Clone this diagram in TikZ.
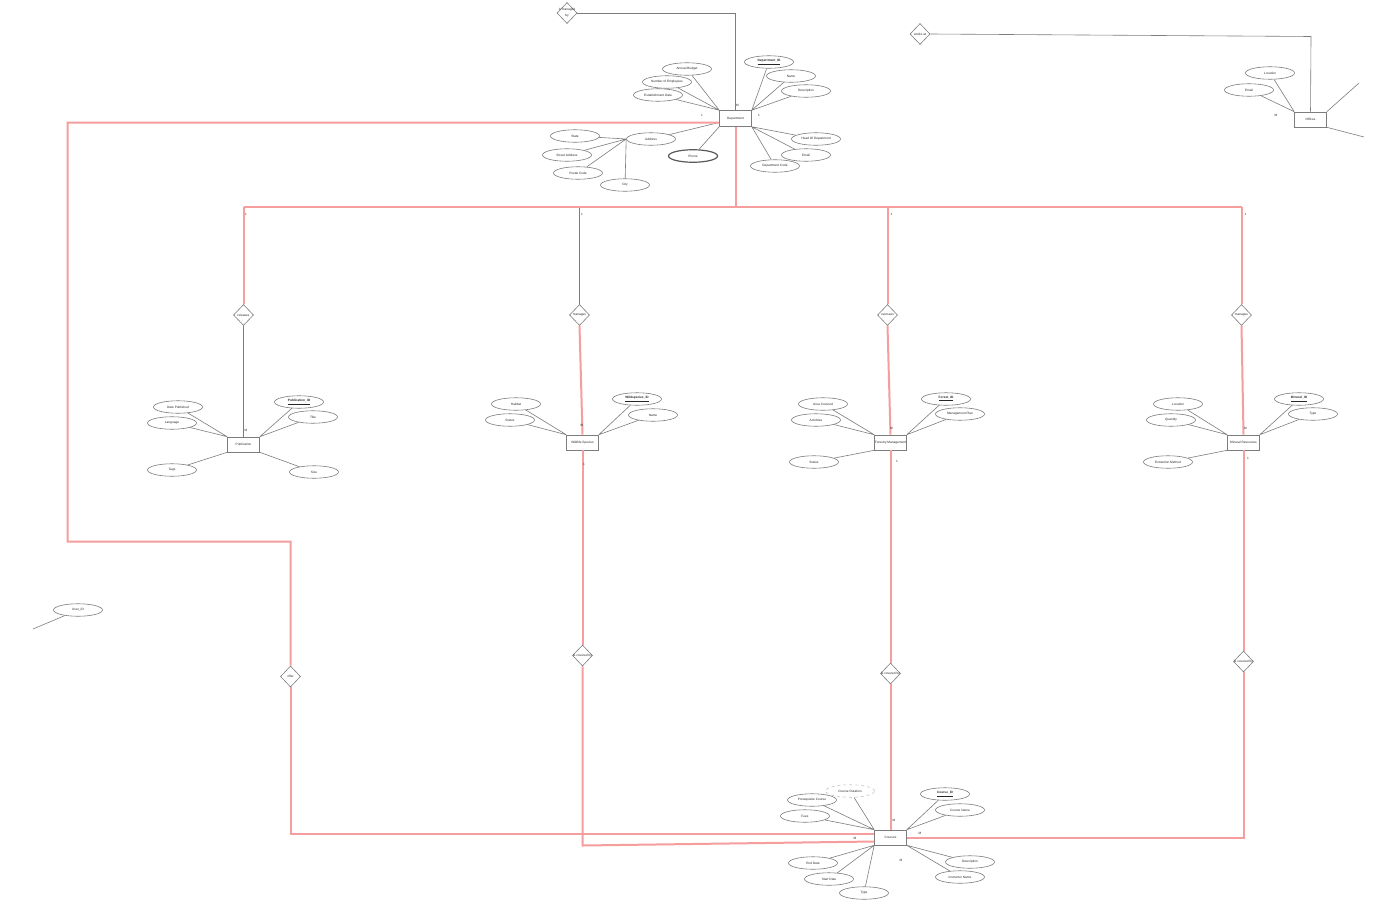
\documentclass[tikz,border=0pt]{standalone}
\usepackage{fontspec}
\setmainfont{Liberation Sans}
\usetikzlibrary{shapes.geometric}
\definecolor{linkgray}{RGB}{125,125,125}
\definecolor{relred}{RGB}{246,158,158}

\begin{document}
\begin{tikzpicture}[x=1bp,y=-1bp,
    every node/.style={font=\fontsize{3.2}{3.8}\selectfont, text=black!85},
    attr/.style={ellipse, draw=linkgray, line width=0.6bp, minimum width=49bp, minimum height=12.5bp, inner sep=0pt},
    ent/.style={rectangle, draw=linkgray, line width=0.6bp, minimum width=32bp, minimum height=16bp, inner sep=0pt},
    rel/.style={diamond, draw=linkgray, line width=0.6bp, minimum width=20bp, minimum height=21bp, inner sep=0pt},
    card/.style={inner sep=0pt},
    link/.style={draw=linkgray, line width=0.6bp},
    redlink/.style={draw=relred, line width=2bp}]
    \useasboundingbox[fill=white] (0,0) rectangle (1391,903);

    % entities
    \node[ent] (dept) at (735.5,118.5) {Department};
    \node[ent, minimum height=15bp] (off) at (1310.5,119.5) {Offices};
    \node[ent, minimum height=15bp] (pub) at (243.5,444.5) {Publication};
    \node[ent, minimum height=15bp] (wild) at (582.5,442.5) {Wildlife Species};
    \node[ent, minimum height=15bp] (forest) at (890.5,442.5) {Forestry Management};
    \node[ent, minimum height=15bp] (mineral) at (1243.5,442.5) {Mineral Resources};
    \node[ent, minimum height=15bp] (crs) at (890.5,837.5) {Courses};

    % relationships
    \node[rel] (imb) at (567,13) {\makebox[0pt]{\shortstack{is managed\\by}}};
    \node[rel] (wa) at (920,34) {\makebox[0pt]{works at}};
    \node[rel] (releases) at (243.5,315) {\makebox[0pt]{releases}};
    \node[rel] (mng) at (579.5,315) {\makebox[0pt]{manages}};
    \node[rel] (ovs) at (887.5,315) {\makebox[0pt]{oversees}};
    \node[rel] (mgr) at (1241.5,315) {\makebox[0pt]{manages}};
    \node[rel] (offer) at (290.5,676.5) {\makebox[0pt]{offer}};
    \node[rel] (icb1) at (582.5,655.5) {\makebox[0pt]{is covered by}};
    \node[rel] (icb2) at (890.5,673.5) {\makebox[0pt]{is covered by}};
    \node[rel] (icb3) at (1243.5,661.5) {\makebox[0pt]{is covered by}};

    % department attributes
    \node[attr] (budget) at (687,69) {Annual Budget};
    \node[attr] (staff) at (667,82) {Number of Employees};
    \node[attr] (estdate) at (658,95) {Establishment Date};
    \node[attr] (deptid) at (769,62) {\underline{\textbf{Department\_ID}}};
    \node[attr] (dname) at (791,76) {Name};
    \node[attr] (ddesc) at (806,91) {Description};
    \node[attr] (head) at (816,139) {Head Of Department};
    \node[attr] (demail) at (806,155) {Email};
    \node[attr] (dcode) at (775,166) {Department Code};
    \node[attr] (addr) at (651,139) {Address};
    \node[attr, draw=black!65, line width=1.2bp] (phone) at (693,156) {Phone};
    \node[attr] (state) at (575,136) {State};
    \node[attr] (street) at (567,155) {Street Address};
    \node[attr] (postal) at (578,173) {Postal Code};
    \node[attr] (city) at (625,185) {City};

    \draw[link] (budget) -- (dept.north west) (staff) -- (dept.north west) (estdate) -- (dept.north west);
    \draw[link] (deptid) -- (dept.north east) (dname) -- (dept.north east) (ddesc) -- (dept.north east);
    \draw[link] (head) -- (dept.south east) (demail) -- (dept.south east) (dcode) -- (dept.south east);
    \draw[link] (addr) -- ([yshift=-4bp]dept.west) (phone) -- (dept.south west);
    \draw[link] (state) -- (addr.west) (street) -- (addr.west) (postal) -- (addr.west) (city) -- (addr.west);

    % offices attributes
    \node[attr] (oloc) at (1270,73) {Location};
    \node[attr] (oemail) at (1249,90) {Email};
    \coordinate (offa) at (1359,83);
    \coordinate (offb) at (1364,137);
    \draw[link] (oloc) -- (off.north west) (oemail) -- (off.north west);
    \draw[link] (off.north east) -- (offa) (off.south east) -- (offb);

    % publication attributes
    \node[attr] (pdate) at (178,407) {Date Published};
    \node[attr] (plang) at (172,423) {Language};
    \node[attr] (pubid) at (299,402) {\underline{\textbf{Publication\_ID}}};
    \node[attr] (ptitle) at (313,417) {Title};
    \node[attr] (ptags) at (172,470) {Tags};
    \node[attr] (psize) at (314,472) {Size};
    \draw[link] (pdate) -- (pub.north west) (plang) -- (pub.north west);
    \draw[link] (pubid) -- (pub.north east) (ptitle) -- (pub.north east);
    \draw[link] (ptags) -- (pub.south west) (psize) -- (pub.south east);

    % wildlife attributes
    \node[attr] (whab) at (516,404) {Habitat};
    \node[attr] (wstat) at (510,420) {Status};
    \node[attr] (wildid) at (637,399) {\underline{\textbf{Wildspecies\_ID}}};
    \node[attr] (wname) at (653,415) {Name};
    \draw[link] (whab) -- (wild.north west) (wstat) -- (wild.north west);
    \draw[link] (wildid) -- (wild.north east) (wname) -- (wild.north east);

    % forestry attributes
    \node[attr] (farea) at (823,404) {Area Covered};
    \node[attr] (fact) at (816,420) {Activities};
    \node[attr] (forestid) at (946,399) {\underline{\textbf{Forest\_ID}}};
    \node[attr] (fplan) at (960,414) {Management Plan};
    \node[attr] (fstat) at (814,462) {Status};
    \draw[link] (farea) -- (forest.north west) (fact) -- (forest.north west);
    \draw[link] (forestid) -- (forest.north east) (fplan) -- (forest.north east);
    \draw[link] (fstat) -- (forest.south west);

    % mineral attributes
    \node[attr] (mloc) at (1178,404) {Location};
    \node[attr] (mqty) at (1171,420) {Quantity};
    \node[attr] (minid) at (1299,399) {\underline{\textbf{Mineral\_ID}}};
    \node[attr] (mtype) at (1313,414) {Type};
    \node[attr] (mext) at (1168,462) {Extraction Method};
    \draw[link] (mloc) -- (mineral.north west) (mqty) -- (mineral.north west);
    \draw[link] (minid) -- (mineral.north east) (mtype) -- (mineral.north east);
    \draw[link] (mext) -- (mineral.south west);

    % course attributes
    \node[attr, draw=linkgray!45, dashed] (cdur) at (850,791) {Course Duration};
    \node[attr] (cpre) at (812,800) {Prerequisite Course};
    \node[attr] (cfees) at (805,816) {Fees};
    \node[attr] (courseid) at (945,794) {\underline{\textbf{Course\_ID}}};
    \node[attr] (cname) at (960,810) {Course Name};
    \node[attr] (cend) at (813,863) {End Date};
    \node[attr] (cstart) at (829,879) {Start Date};
    \node[attr] (ctype) at (864,893) {Type};
    \node[attr] (cdesc) at (970,862) {Description};
    \node[attr] (cinst) at (960,877) {Instructor Name};
    \draw[link] (cdur) -- (crs.north west) (cpre) -- (crs.north west) (cfees) -- (crs.north west);
    \draw[link] (courseid) -- (crs.north east) (cname) -- (crs.north east);
    \draw[link] (cend) -- (crs.south west) (cstart) -- (crs.south west) (ctype) -- (crs.south west);
    \draw[link] (cdesc) -- (crs.south east) (cinst) -- (crs.south east);

    % user
    \node[attr] (uid) at (78,610) {User\_ID};
    \coordinate (uidend) at (33,629);
    \draw[link] (uid) -- (uidend);

    % black connectors
    \draw[link] (imb.east) -| (dept.north);
    \coordinate (wacorner) at (1311,36.5);
    \draw[link] (wa.east) -- (wacorner) -- (off.north);
    \coordinate (bus) at (735.5,206.5);
    \draw[link] (releases.south) -- (pub.north);
    \draw[link] (mng.north) -- (mng.north |- bus);

    % red connectors
    \coordinate (rA) at (67.5,122.5);
    \coordinate (rB) at (67.5,541.5);
    \coordinate (rC) at (290.5,541.5);
    \coordinate (wl) at (582.5,845.5);
    \draw[redlink] ([yshift=-4bp]dept.west) -- (rA) -- (rB) -- (rC) -- (offer.north);
    \draw[redlink] (offer.south) |- ([yshift=4bp]crs.west);
    \draw[redlink] (dept.south) -- (bus);
    \draw[redlink] (releases.north) -- (releases.north |- bus);
    \draw[redlink] (ovs.north) -- (ovs.north |- bus);
    \draw[redlink] (mgr.north) -- (mgr.north |- bus);
    \draw[redlink] (releases.north |- bus) -- (mgr.north |- bus);
    \draw[redlink] (mng.south) -- (wild.north);
    \draw[redlink] (ovs.south) -- (forest.north);
    \draw[redlink] (mgr.south) -- (mineral.north);
    \draw[redlink] (wild.south) -- (icb1.north);
    \draw[redlink] (icb1.south) -- (wl) -- ([yshift=-4bp]crs.west);
    \draw[redlink] (forest.south) -- (icb2.north);
    \draw[redlink] (icb2.south) -- (crs.north);
    \draw[redlink] (mineral.south) -- (icb3.north);
    \draw[redlink] (icb3.south) |- (crs.east);

    % cardinalities
    \node[card] (c1) at (737.5,105) {M};
    \node[card] (c2) at (702,115) {1};
    \node[card] (c3) at (759,115) {1};
    \node[card] (c4) at (1276,115) {M};
    \node[card] (c5) at (246,214) {1};
    \node[card] (c6) at (582,214) {1};
    \node[card] (c7) at (891.5,214) {1};
    \node[card] (c8) at (1245.5,214) {1};
    \node[card] (c9) at (246,430) {M};
    \node[card] (c10) at (582,425) {M};
    \node[card] (c11) at (891.5,428) {M};
    \node[card] (c12) at (1245.5,428) {M};
    \node[card] (c13) at (584,464) {1};
    \node[card] (c14) at (897,461) {1};
    \node[card] (c15) at (1248,458) {1};
    \node[card] (c16) at (894,820) {M};
    \node[card] (c17) at (920,833) {M};
    \node[card] (c18) at (855,838) {M};
    \node[card] (c19) at (901,860) {M};
\end{tikzpicture}
\end{document}
